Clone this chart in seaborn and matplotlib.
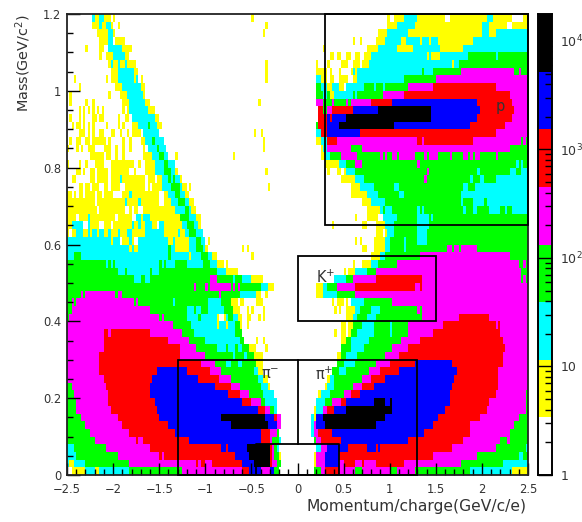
import numpy as np
import pandas as pd
import seaborn as sns
import matplotlib
matplotlib.use("Agg")
import matplotlib.pyplot as plt
from matplotlib.colors import ListedColormap, LogNorm
from matplotlib.patches import Rectangle

# Histogram range
p_min, p_max = -2.5, 2.5
m_min, m_max = 0.0, 1.2
n_p, n_m = 200, 60
count_max = 17700.0

# Colour classes
level_names = "wycgmrbk"
level_colors = ["#ffffff", "#ffff00", "#00ffff", "#00ff00",
                "#ff00ff", "#ff0000", "#0000ff", "#000000"]
level_counts = [1.8, 5.8, 19, 61, 200, 640, 2100, 6800]

# Each row runs from the top mass bin downward: "<start bin><class>" change points.
rows_negative = [
"11c 12y 14c 16y 19w 20y 21w 80y 81w",
"11y 14c 15y 17c 19y 20w 22y 23w 86y 87w",
"13y 18c 20y 21w 85y 86w",
"14y 18c 20w 21y 25w",
"8y 9w 14y 16w 18c 24y 28w",
"14y 15w 17y 20c 25y 27w",
"18y 19c 20y 22c 23y 25c 26y 30w 86y 87w",
"19y 22c 29y 31w 86y 87w",
"3y 4w 17y 18w 19y 22c 29y 30c 31w 32y 33w 86y 87w",
"5y 6w 21y 24c 32y 34w",
"1y 2w 18y 19w 23y 26c 33y 34w",
"1y 2w 8y 9w 11y 12w 24y 27c 34y 36w 83y 84w",
"5y 6w 7y 8w 9y 10w 11y 12w 13y 14w 15y 16w 24y 25w 26y 27c 35y 38w",
"1y 2w 5y 6w 7y 8w 11y 13w 14y 16w 22y 23w 25y 27w 28c 38y 40w",
"2y 3w 4y 6w 7y 8w 9y 10w 11y 12w 17y 18w 22y 23w 24y 25w 28y 31c 35g 36c 39y 41w",
"5y 8w 9y 10w 11y 12w 14y 16w 19y 21w 23y 24w 26y 27w 28y 32w 33c 40w 81y 82w 84y 85w",
"1y 2w 4y 6w 8y 10w 11y 17w 18y 19w 24y 25w 27y 28w 32y 34c 37g 38c 42w 85y 86w",
"0y 1w 4y 5w 6y 7w 9y 12w 16y 19w 21y 22w 24y 25w 27y 28w 33y 34w 35c 39g 40c 43w 85y 86w",
"10y 16w 17y 19w 21y 22w 24y 25w 33y 37c 40g 42c 44w 47y 48w 72y 73w",
"0y 1w 5y 6w 8y 9w 12y 16w 19y 29w 31y 32w 34y 38c 42g 44c 47w",
"4y 6w 7y 8w 10y 12w 13y 18w 19y 27w 29y 30w 34y 38c 42g 45c 47y 48w 86y 87w",
"2y 4w 10y 12w 13y 18w 19y 23c 24y 34w 35y 38w 39y 41c 44g 45c 46g 47c 49y 50w",
"5y 7w 8y 10w 11y 14w 16y 18w 19y 23w 25y 34w 35y 36w 37y 41c 45g 49c 50y 52w 53y 54w 87y 88w",
"0y 2w 3y 4w 5y 7w 8y 12w 13y 15w 16y 20w 24y 27c 28y 40w 42y 44c 47g 49c 51y 53w",
"0y 12w 13y 25c 26y 31c 32y 40w 42y 45c 48g 51c 53y 55w",
"0y 13w 14y 25w 27y 28w 29y 31w 33y 47c 51g 53c 54y 56w",
"0y 4w 5y 9c 10y 21w 22y 28w 30c 32y 33c 36y 49g 53c 56y 58w",
"0y 2c 7w 9c 10y 14w 16y 19w 20y 28c 29y 31c 32y 34c 37y 39w 40c 42y 50c 52g 55c 57y 58w",
"0y 1w 2y 4c 7y 9c 10y 11c 13y 14c 16y 18c 19y 22c 23y 26c 28y 34c 42y 48c 49y 51c 53g 56c 59w",
"0c 19y 20c 23w 24y 27c 28y 29w 31c 44y 46c 47y 53c 56g 58c 60w 61y 62w",
"0c 27y 28c 29y 31c 44g 45c 47y 53c 56g 59c 60y 61w 76y 77w 78y 79w",
"0c 3g 6c 44g 45c 53y 54c 58g 61c 63y 65w 80y 81w",
"0g 17c 18g 19c 20g 21c 40g 41c 42g 43c 47g 52c 59g 62c 65y 68w 69y 70w",
"0g 22c 25g 26c 36g 37c 40g 65c 69y 74w",
"0g 29c 32g 34c 36g 62m 65g 72c 73g 76c 80y 85w",
"0g 55m 56g 60m 61g 62m 71g 72m 73g 74m 75g 84c 87y 90w",
"0g 6m 7g 8m 21g 22m 24g 66m 67g 75c 82y 84w 86y 87w",
"0g 2m 3g 4m 29g 30m 31g 46c 47g 61c 67g 71y 74w 75y 77w 82y 85w",
"0g 2m 36g 52c 55g 56c 58g 61c 68g 72y 75w 78y 79w 80y 81w 85y 86w",
"0g 1m 40g 41m 42g 52c 57g 58c 65y 66w 68y 69c 70g 72c 74y 76w 78y 80w 83y 84w 85y 86w",
"0m 46g 54c 65y 66c 69y 70c 73g 75y 76w 78y 79w",
"0m 16r 18m 19r 36m 50g 55c 73g 76w",
"0m 16r 44m 53g 60c 75g 77w 82y 83w 85y 86w",
"0m 16r 49m 56g 65c 69g 70c 73g 74c 76g 79y 82w 86y 87w",
"0m 14r 49m 60g 72c 73g 77c 78g 81y 83w 83y 85w",
"0m 14r 58m 64g 69c 71g 74c 76g 82y 85w",
"0m 14r 39b 52r 62m 67g 81c 83y 85w",
"0m 16r 37b 57r 66m 71g 83c 85y 87w",
"0g 2m 17r 36b 64r 71m 75g 84c 87y 88w",
"0g 3m 18r 36b 70r 75m 79g 85c 90w",
"0g 4m 18r 38b 76r 80m 84g 86c 91w",
"0g 4m 19r 39b 83r 86m 88g 90c 91w",
"0g 6m 22r 40b 67k 86b 90r 91m 93w",
"0g 8m 24r 44b 71k 87b 91m 93w",
"0g 10m 27r 47b 84r 88m 91g 92w",
"0g 12m 30r 31m 33r 53b 84r 88m 89g 92c 93w",
"0c 3g 17m 36r 67b 69r 70b 78k 88r 89m 90g 91c 92w",
"0c 4g 22m 40r 41m 42r 73b 79k 88r 89m 90g 92y 93w",
"0c 1y 3c 8g 27m 56r 57m 58r 60m 63r 76b 81k 88r 89m 91g 93w",
"0w 2y 8c 12y 14c 27g 50m 76r 79b 84m 88b 90g 92w",
]

rows_positive = [
"139y 140w 142y 146c 152y 164w 166y 182c 185y 193w 198y",
"139y 143c 151y 180c 183y 191w 193y",
"135y 139c 148y 180c 183y 186c",
"124y 125w 127y 128w 134y 138c 145y 147c 153y 154c 157y 158c 161y 176c",
"111y 112w 130y 135c 143y 150c 162y 172c",
"114y 116w 117y 119w 121y 123w 125y 127w 129y 132c 156y 157c 158y 162c 174g 186c 187g",
"108y 109w 113y 114w 119y 122w 124y 127w 128y 131c 167y 168c 170g",
"108y 113w 114y 115w 118y 119w 123y 124c 125y 126c 154g 155c 159g 171m 194g 196m 197g",
"108c 110y 113w 114y 116w 118y 122w 124y 126c 146g 160m",
"108g 110c 113y 115c 118y 120w 121c 129g 133c 134g 137c 138g 148m 159r 186m",
"108g 111c 113g 114y 116c 124g 125c 126g 137m 146r 192m",
"108m 111g 115m 116g 121m 122g 123m 132r 141b 178r 193m",
"109r 111g 113m 115r 124b 135k 158b 179r 194m",
"109r 113b 114r 115b 121k 158b 178r 193m",
"108g 109r 113b 118k 142b 175r 190m",
"108c 110r 113b 127r 186m",
"108y 110c 113r 117m 152r 154m 155r 176m 197g 198m 199g",
"110y 111c 113m 123g 128m 192g",
"110y 112c 114g 119m 126g 136m 137g 138m 139g 141m 143g 144m 151g 155m 156g 157m 161g 166m 167g 172m 174g 175m 176g 177m 179g 186m 187g",
"112y 118c 121g 125m 128g 152m 153g 195c 196g 197c 198g",
"113y 114w 117y 119w 120y 121c 125g 156m 157g 178c 179g 192c 195g 197c",
"119y 125c 129g 155m 156g 175c 176g 179c 181g 186c",
"123y 127c 133g 142c 144g 172c 174g 177c",
"123y 130c 135g 144c 146g 171c",
"128y 132c 138g 171c 172g 176c 181g 182c",
"130y 136c 137g 138c 141g 152c 153g 154c 155g 172c 173g 176c 178g 183c 188g 190c 191g 193c",
"125y 126w 130y 135w 137c 143g 152c 157g 158c 159g",
"115y 116w 128y 130w 134y 138c 142g 152c 157g",
"134y 137w 138y 139c 142g 152c 156g",
"125y 126w 127y 128w 133y 138c 140g 146c 147g 152c 156g",
"128y 130w 133y 138c 140g 146c 147g 165m 167g 168m 170g 171m 178g",
"132y 136c 138g 153m 192g",
"124y 125w 128y 132c 135g 143m 196g 198m 199g",
"120y 121w 122y 125c 130g 134m 197g",
"116c 121g 124m 134r 154m 197g 198m 199g",
"108y 111c 113g 117m 125r 151m 153r 154m",
"108y 111c 117g 125m",
"115y 116w 117y 120w 121y 122w 123c 129g 141m",
"116y 117w 118y 119w 121y 125c 127g 132c 136g 152m 153g 154m",
"121y 124c 126g 130c 134g 154m 170r 183m",
"119y 121w 122y 124g 128c 133g 140c 141g 148m 163r 186m 187r 188m",
"116y 117w 119y 121w 122y 123g 126c 133g 140c 141g 148m 159r 188m",
"119y 121g 123c 131g 145m 153r 189m",
"119g 123c 129g 141m 148r 190m",
"117y 119g 121c 126g 138m 144r 189m",
"117g 120c 125g 134m 140r 151b 167r 189m",
"115g 118c 121g 131m 136r 144b 169r 187m",
"113y 114c 116g 128m 132r 138b 168r 187m",
"112y 113c 116g 124m 128r 133b 167r 187m",
"109y 110c 114g 120m 123r 127b 166r 186m 199g",
"108c 112g 115m 119r 121b 133k 138b 140k 141b 166r 183m 199g",
"107y 108c 111m 113r 116b 121k 141b 164r 182m 199g",
"106c 107y 108b 111k 138b 161r 179m 196g",
"106c 107m 108b 112k 134b 159r 175m 194g",
"106c 107m 109r 115b 155r 175m 192g",
"107g 108m 110r 119b 148r 172m 188g 191m 192g",
"108c 110m 113b 122r 130b 134r 135b 136r 167m 186g 199c",
"107y 108m 112b 118r 159m 178g 196c 198g",
"107y 108m 112b 118m 120r 125m 128r 129m 134r 146m 171g 189c",
"107g 110m 112r 118m 125g 128m 140g 143m 151g 175c 193y",
]

# Selection boxes: (p_low, p_high, m_low, m_high)
box_proton = (0.3, 2.5, 0.65, 1.2)
box_kaon = (0.0, 1.5, 0.4, 0.57)
box_pion = (-1.3, 1.3, 0.0, 0.3)
notch_p = (-0.45, 0.45)
notch_m = 0.08

x_ticks = [-2.5, -2, -1.5, -1, -0.5, 0, 0.5, 1, 1.5, 2, 2.5]
x_tick_labels = ["\u22122.5", "\u22122", "\u22121.5", "\u22121", "\u22120.5", "0", "0.5", "1", "1.5", "2", "2.5"]
y_ticks = [0, 0.2, 0.4, 0.6, 0.8, 1.0, 1.2]
y_tick_labels = ["0", "0.2", "0.4", "0.6", "0.8", "1", "1.2"]
bar_ticks = [1, 10, 100, 1000, 10000]
bar_tick_labels = ["1", "10", r"10$^{2}$", r"10$^{3}$", r"10$^{4}$"]
bar_minor = [f * 10 ** d for d in range(5) for f in range(2, 10) if f * 10 ** d < count_max]


def expand(row, first, last):
    out = np.full(last - first, level_counts[0], dtype=float)
    for tok in row.split():
        start = max(int(tok[:-1]), first)
        out[start - first:] = level_counts[level_names.index(tok[-1])]
    return out


grid = np.array([np.concatenate([expand(a, 0, n_p // 2), expand(b, n_p // 2, n_p)])
                 for a, b in zip(rows_negative, rows_positive)])
p_centres = p_min + (np.arange(n_p) + 0.5) * (p_max - p_min) / n_p
m_centres = m_max - (np.arange(n_m) + 0.5) * (m_max - m_min) / n_m
table = pd.DataFrame(grid, index=np.round(m_centres, 3), columns=np.round(p_centres, 4))

W, H = 582, 522
FONT = "DejaVu Sans"
plt.rcParams["font.family"] = FONT
plt.rcParams["mathtext.fontset"] = "dejavusans"
plt.rcParams["mathtext.default"] = "regular"
FS = 8.3
TEXT = "#333333"

fig = plt.figure(figsize=(W / 100, H / 100), dpi=100)
ax = fig.add_axes([67 / W, (H - 475) / H, 461 / W, 461 / H])
cax = fig.add_axes([537.5 / W, (H - 475) / H, 14.5 / W, 461 / H])

sns.heatmap(table, ax=ax, cbar_ax=cax, cmap=ListedColormap(level_colors),
            norm=LogNorm(vmin=1, vmax=count_max), xticklabels=False, yticklabels=False)
ax.collections[0].set_antialiased(False)


def X(p):
    return (np.asarray(p, dtype=float) - p_min) / (p_max - p_min) * n_p


def Y(m):
    return (m_max - np.asarray(m, dtype=float)) / (m_max - m_min) * n_m


LW = 1.3
for lo_p, hi_p, lo_m, hi_m in (box_proton, box_kaon, box_pion):
    ax.add_patch(Rectangle((X(lo_p), Y(hi_m)), X(hi_p) - X(lo_p), Y(lo_m) - Y(hi_m),
                           fill=False, ec="black", lw=LW, clip_on=False, zorder=3))
ax.plot(X([0, 0]), Y([box_pion[3], notch_m]), color="black", lw=LW, zorder=3)
ax.plot(X([notch_p[0], notch_p[0], notch_p[1], notch_p[1]]),
        Y([0, notch_m, notch_m, 0]), color="black", lw=LW, zorder=3)

ax.text(X(-0.3), Y(0.262), r"$\pi^{-}$", fontsize=10.5, ha="center", va="center", zorder=4, color=TEXT)
ax.text(X(0.29), Y(0.262), r"$\pi^{+}$", fontsize=10.5, ha="center", va="center", zorder=4, color=TEXT)
ax.text(X(0.3), Y(0.515), r"K$^{+}$", fontsize=10.5, ha="center", va="center", zorder=4, color=TEXT)
ax.text(X(2.2), Y(0.958), "p", fontsize=10.5, ha="center", va="center", zorder=4, color=TEXT)

ax.set_xticks(X(x_ticks))
ax.set_xticklabels(x_tick_labels, fontsize=FS, rotation=0, color=TEXT)
ax.set_xticks(X(np.arange(p_min, p_max + 0.001, 0.1)), minor=True)
ax.set_yticks(Y(y_ticks))
ax.set_yticklabels(y_tick_labels, fontsize=FS, rotation=0, color=TEXT)
ax.set_yticks(Y(np.arange(m_min, m_max + 0.001, 0.05)), minor=True)
ax.tick_params(which="major", direction="in", length=9, width=1.0, color="black", pad=4)
ax.tick_params(which="minor", direction="in", length=4.5, width=1.0, color="black")
ax.tick_params(axis="x", pad=6)
for side in ax.spines.values():
    side.set_visible(True)
    side.set_linewidth(1.3)
    side.set_color("#222222")
ax.set_xlim(0, n_p)
ax.set_ylim(n_m, 0)
ax.set_xlabel("")
ax.set_ylabel("")
fig.text(527 / W, (H - 507) / H, "Momentum/charge(GeV/c/e)", fontsize=11.2, ha="right", va="center", color=TEXT)
fig.text(23 / W, (H - 14) / H, r"Mass(GeV/c$^{2}$)", fontsize=10.4, ha="center", va="top", rotation=90, color=TEXT)

cax.set_yticks(bar_ticks)
cax.set_yticklabels(bar_tick_labels, fontsize=9, color=TEXT)
cax.set_yticks(bar_minor, minor=True)
cax.set_yticklabels([], minor=True)
cax.tick_params(which="major", direction="in", length=10, width=1.0, pad=6, color="black")
cax.tick_params(which="minor", direction="in", length=5, width=1.0, color="black")
for side in cax.spines.values():
    side.set_visible(True)
    side.set_linewidth(1.2)

fig.savefig("out.png", dpi=100)
